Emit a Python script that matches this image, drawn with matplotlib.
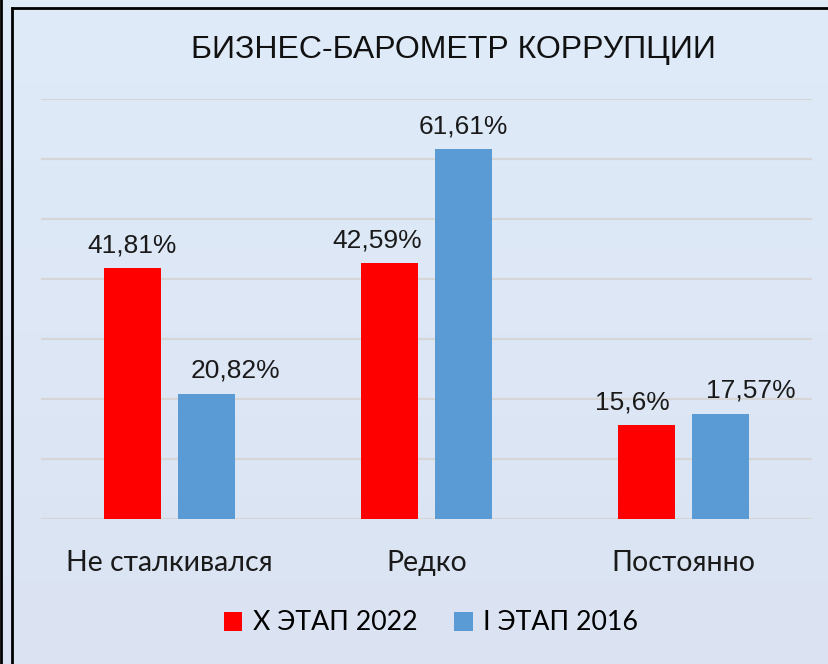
import numpy as np
import matplotlib.pyplot as plt
from matplotlib.lines import Line2D

categories = ["Не сталкивался", "Редко", "Постоянно"]
series_names = ["Х ЭТАП 2022", "І ЭТАП 2016"]
values_2022 = [41.81, 42.59, 15.6]
values_2016 = [20.82, 61.61, 17.57]
labels_2022 = ["41,81%", "42,59%", "15,6%"]
labels_2016 = ["20,82%", "61,61%", "17,57%"]

W, H = 829, 664
fig = plt.figure(figsize=(W / 100, H / 100), dpi=100)

# soft vertical background gradient
bg = fig.add_axes([0, 0, 1, 1], zorder=-10)
top = np.array([223, 235, 249]) / 255
bot = np.array([219, 227, 242]) / 255
t = np.linspace(0, 1, 256)[:, None]
grad = (top * (1 - t) + bot * t)[:, None, :]
bg.imshow(grad, aspect="auto", extent=[0, 1, 0, 1])
bg.set_axis_off()

# frame lines (double line on the left, single along the top)
def px(x, y):
    return x / W, 1 - y / H

for x in (1, 12):
    (x0, y0), (x1, y1) = px(x, 0 if x == 1 else 8), px(x, H)
    fig.add_artist(Line2D([x0, x1], [y0, y1], color="black", lw=2.0))
(x0, y0), (x1, y1) = px(11, 8), px(W, 8)
fig.add_artist(Line2D([x0, x1], [y0, y1], color="black", lw=2.0, solid_capstyle="butt"))

ax = fig.add_axes([41 / W, (H - 519) / H, 771 / W, 420 / H])
ax.patch.set_alpha(0)

x = np.arange(len(categories))
w = 0.222
off = 0.144
b1 = ax.bar(x - off, values_2022, w, color="#FF0000", label=series_names[0], zorder=3)
b2 = ax.bar(x + off, values_2016, w, color="#5B9BD5", label=series_names[1], zorder=3)

# some labels are nudged sideways (in points)
shift_2022 = [0, -9, -10]
shift_2016 = [21, 0, 22]
for bars, labs, shifts in ((b1, labels_2022, shift_2022), (b2, labels_2016, shift_2016)):
    for r, lab, dx in zip(bars, labs, shifts):
        ax.annotate(lab, (r.get_x() + r.get_width() / 2, r.get_height()),
                    xytext=(dx, 8), textcoords="offset points", ha="center", va="bottom",
                    fontsize=19, family="Liberation Sans", color="#1a1a1a")

ax.set_xlim(-0.5, 2.5)
ax.set_ylim(0, 70)
ax.set_yticks(np.arange(0, 71, 10))
ax.yaxis.grid(True, color="#d6d6d6", lw=1.6, zorder=0)
ax.tick_params(left=False, bottom=False, labelleft=False)
for s in ax.spines.values():
    s.set_visible(False)
ax.set_xticks(x)
ax.set_xticklabels(categories, fontsize=20.5, family="Lato", color="#1a1a1a")
ax.tick_params(axis="x", pad=19)

fig.text(453 / W, 1 - 50 / H, "БИЗНЕС-БАРОМЕТР КОРРУПЦИИ", ha="center", va="center",
         fontsize=23, family="Liberation Sans", color="#111111")

fig.legend(handles=[b1, b2], loc="center", bbox_to_anchor=(431 / W, 1 - 623 / H),
           ncol=2, frameon=False, prop={"family": "Lato", "size": 19.3},
           handlelength=0.7, handleheight=0.7, handletextpad=0.4, columnspacing=1.35)

fig.savefig("out.png", dpi=100)
